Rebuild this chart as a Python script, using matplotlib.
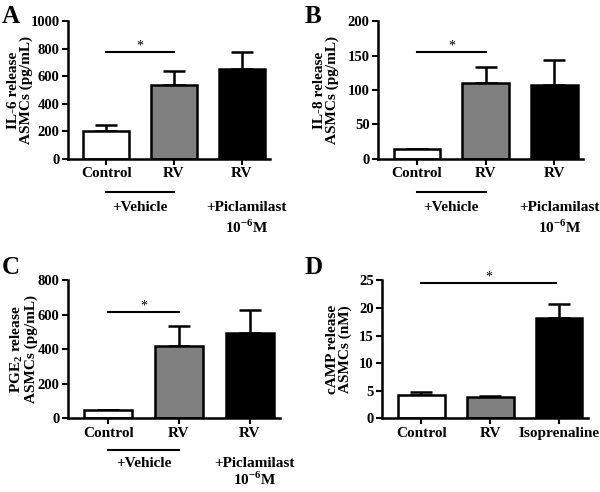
import matplotlib
matplotlib.use('Agg')
import matplotlib.pyplot as plt
import matplotlib.transforms as mtransforms

plt.rcParams['font.family'] = ['Liberation Serif', 'DejaVu Serif']
plt.rcParams['font.weight'] = 'bold'
plt.rcParams['mathtext.fontset'] = 'custom'
plt.rcParams['mathtext.rm'] = 'Liberation Serif:bold'
plt.rcParams['mathtext.bf'] = 'Liberation Serif:bold'

# --- data ---
labels_abc = ['Control', 'RV', 'RV']
labels_d = ['Control', 'RV', 'Isoprenaline']
bar_colors = ['white', '#808080', 'black']

il6_mean = [205, 535, 650]
il6_err = [40, 105, 125]
il8_mean = [15, 110, 107]
il8_err = [0, 23, 36]
pge2_mean = [45, 420, 493]
pge2_err = [3, 115, 137]
camp_mean = [4.3, 3.9, 18.1]
camp_err = [0.4, 0.2, 2.7]

fig = plt.figure(figsize=(6, 4.92), dpi=100)

def panel(rect, means, errs, labels, ymax, ystep, ylabel, ylabel_x, letter, letter_xy, sig,
          treat_y=None):
    ax = fig.add_axes(rect)
    x = range(len(means))
    ax.bar(x, means, width=0.68, color=bar_colors, edgecolor='black', linewidth=1.8, zorder=2)
    ax.errorbar(x, means, yerr=[[0] * len(errs), errs], fmt='none', ecolor='black',
                elinewidth=1.8, capsize=8, capthick=1.8, zorder=1)
    ax.set_xlim(-0.57, 2.42)
    ax.set_ylim(0, ymax)
    ax.set_yticks(range(0, int(ymax) + 1, ystep))
    ax.set_xticks(list(x))
    ax.set_xticklabels(labels, fontsize=11, fontweight='bold')
    for t in ax.get_yticklabels():
        t.set_fontsize(10.5)
        t.set_fontweight('bold')
    ax.tick_params(axis='both', width=1.5, length=4, pad=2)
    for s in ['top', 'right']:
        ax.spines[s].set_visible(False)
    for s in ['left', 'bottom']:
        ax.spines[s].set_linewidth(1.8)
    ax.set_ylabel(ylabel, fontsize=11, fontweight='bold', linespacing=1.0)
    ax.yaxis.set_label_coords(ylabel_x, 0.5)
    fig.text(letter_xy[0], letter_xy[1], letter, fontsize=18, fontweight='bold',
             ha='left', va='center')
    # significance bar
    x0, x1, ys = sig
    ax.plot([x0, x1], [ys, ys], color='black', lw=1.5, clip_on=False)
    ax.text((x0 + x1) / 2, ys, '*', ha='center', va='bottom', fontsize=10, fontweight='normal')
    if treat_y is not None:
        yl, y1, y2 = treat_y
        tr = mtransforms.blended_transform_factory(ax.transData, ax.transAxes)
        ax.plot([0.0, 1.0], [yl, yl], color='black', lw=1.5, transform=tr, clip_on=False)
        ax.text(0.5, y1, '+Vehicle', transform=tr, ha='center', va='center', fontsize=11)
        ax.text(2.07, y1, '+Piclamilast', transform=tr, ha='center', va='center', fontsize=11)
        ax.text(2.07, y2, r'10$^{\mathbf{-6}}$M', transform=tr, ha='center', va='center', fontsize=11)
    return ax

panel([0.113, 0.677, 0.337, 0.280], il6_mean, il6_err, labels_abc, 1000, 200,
      'IL-6 release\nASMCs (pg/mL)', -0.17, 'A', (0.003, 0.967), (0.0, 1.0, 775),
      treat_y=(-0.24, -0.355, -0.50))
panel([0.630, 0.677, 0.342, 0.280], il8_mean, il8_err, labels_abc, 200, 50,
      'IL-8 release\nASMCs (pg/mL)', -0.19, 'B', (0.508, 0.967), (0.0, 1.0, 155),
      treat_y=(-0.24, -0.355, -0.50))
panel([0.113, 0.150, 0.353, 0.280], pge2_mean, pge2_err, labels_abc, 800, 200,
      r'PGE$_{\mathbf{2}}$ release' + '\nASMCs (pg/mL)', -0.14, 'C', (0.003, 0.457),
      (0.0, 1.0, 615), treat_y=(-0.23, -0.33, -0.445))
panel([0.637, 0.150, 0.343, 0.280], camp_mean, camp_err, labels_d, 25, 5,
      'cAMP release\nASMCs (nM)', -0.145, 'D', (0.508, 0.457), (0.0, 1.95, 24.5))

fig.savefig('out.png', dpi=100)
